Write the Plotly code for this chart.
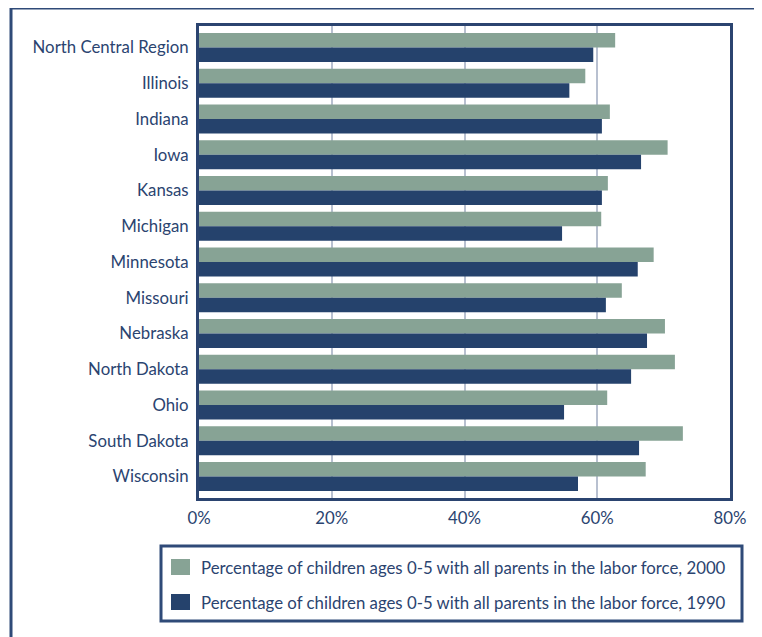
import plotly.graph_objects as go

categories = ["North Central Region", "Illinois", "Indiana", "Iowa", "Kansas", "Michigan",
              "Minnesota", "Missouri", "Nebraska", "North Dakota", "Ohio", "South Dakota", "Wisconsin"]
values_2000 = [62.7, 58.2, 61.9, 70.6, 61.6, 60.6, 68.5, 63.7, 70.2, 71.7, 61.5, 72.9, 67.3]
values_1990 = [59.4, 55.8, 60.7, 66.6, 60.7, 54.7, 66.1, 61.3, 67.5, 65.1, 55.0, 66.3, 57.1]
x_ticks = [0, 20, 40, 60, 80]
x_tick_labels = ["0%", "20%", "40%", "60%", "80%"]
legend_labels = ["Percentage of children ages 0-5 with all parents in the labor force, 2000",
                 "Percentage of children ages 0-5 with all parents in the labor force, 1990"]

GREEN = "#87a395"
NAVY = "#25426c"
TEXT = "#2b4470"
FONT = "Lato"
FS = 16.8

fig = go.Figure()
fig.add_trace(go.Bar(y=categories, x=values_2000, orientation="h", marker_color=GREEN,
                     marker_line_width=0, name=legend_labels[0], showlegend=False))
fig.add_trace(go.Bar(y=categories, x=values_1990, orientation="h", marker_color=NAVY,
                     marker_line_width=0, name=legend_labels[1], showlegend=False))

# page body has an 8px margin, so the figure starts at (8, 8) in the window
OFF = 8
W, H = 762 - OFF, 637 - OFF
L, R, T, B = 199 - OFF, 762 - 730, 26 - OFF, 637 - 498
pw, ph = W - L - R, H - T - B

def px_x(px):
    return (px - OFF - L) / pw

def px_y(py):
    return (H - B - (py - OFF)) / ph

shapes = []
frame = dict(type="line", xref="paper", yref="paper", line=dict(color="#2f4a78", width=3))
shapes.append(dict(frame, x0=px_x(11), x1=px_x(11), y0=px_y(8), y1=px_y(660)))
shapes.append(dict(frame, x0=px_x(11), x1=px_x(761), y0=px_y(8), y1=px_y(8)))
shapes.append(dict(frame, x0=px_x(761), x1=px_x(761), y0=px_y(8), y1=px_y(660)))
shapes.append(dict(type="rect", xref="paper", yref="paper",
                   x0=px_x(161), x1=px_x(742), y0=px_y(546), y1=px_y(621),
                   line=dict(color="#2f4a78", width=3), fillcolor="white"))
for cy, col in [(567, GREEN), (602, NAVY)]:
    shapes.append(dict(type="rect", xref="paper", yref="paper",
                       x0=px_x(171), x1=px_x(190), y0=px_y(cy - 8), y1=px_y(cy + 8),
                       line=dict(width=0), fillcolor=col))

annotations = []
for cy, lab in [(567, legend_labels[0]), (602, legend_labels[1])]:
    annotations.append(dict(xref="paper", yref="paper", x=px_x(199), y=px_y(cy),
                            xanchor="left", yanchor="middle", text=lab, showarrow=False,
                            font=dict(family=FONT, size=FS, color=TEXT)))

fig.update_layout(
    width=W, height=H,
    margin=dict(l=L, r=R, t=T, b=B, pad=0),
    paper_bgcolor="white", plot_bgcolor="white",
    barmode="group", bargap=0.19, bargroupgap=0,
    font=dict(family=FONT, size=FS, color=TEXT),
    shapes=shapes, annotations=annotations,
    xaxis=dict(range=[0, 80], tickvals=x_ticks, ticktext=x_tick_labels,
               showgrid=True, gridcolor="#b8c0d0", gridwidth=2, zeroline=False,
               showline=True, linecolor="#2b4470", linewidth=3, mirror=True,
               ticks="", ticklabelstandoff=3, fixedrange=True,
               tickfont=dict(family=FONT, size=FS, color=TEXT)),
    yaxis=dict(range=[12.6, -0.6], showgrid=False, zeroline=False,
               showline=True, linecolor="#2b4470", linewidth=3, mirror=True,
               ticks="", ticklabelstandoff=4, fixedrange=True,
               tickfont=dict(family=FONT, size=FS, color=TEXT)),
)

fig.write_html("out.html")
